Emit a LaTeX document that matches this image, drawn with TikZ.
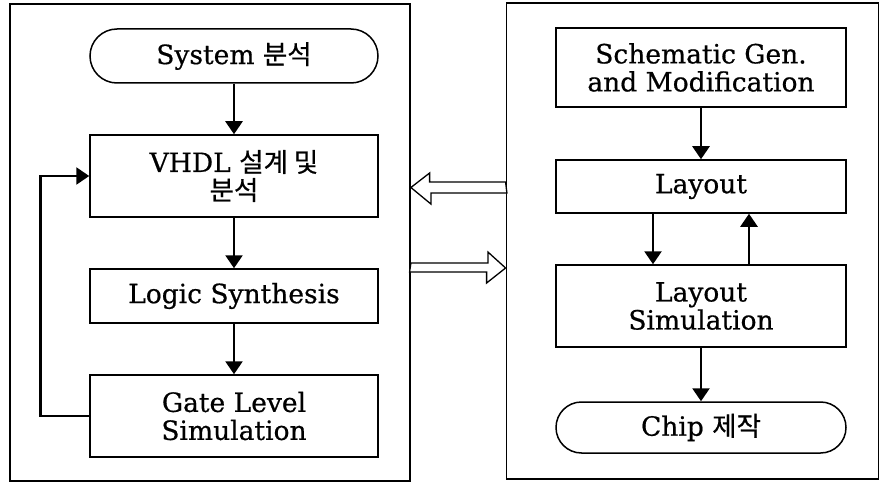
\documentclass[tikz,border=0pt]{standalone}
\usepackage{fontspec}
\setmainfont[FakeBold=0.6]{DejaVu Serif}
\newfontfamily\kr[FakeBold=0.6]{Noto Sans CJK KR}
\usetikzlibrary{arrows.meta,shapes.misc}
\begin{document}
\begin{tikzpicture}[x=1pt,y=-1pt,
  every node/.style={font=\fontsize{26.5}{28}\selectfont, align=center, inner sep=0pt},
  frame/.style={draw, line width=1.8pt},
  box/.style={draw, line width=1.5pt, minimum width=288pt},
  pill/.style={draw, line width=1.5pt, rounded rectangle, minimum width=288pt},
  arr/.style={line width=2.5pt, -{Triangle[length=13pt,width=17pt]}},
  fat/.style={draw, line width=1.3pt, fill=white, line join=miter}]
\useasboundingbox (0,0) rectangle (881,484);
\node[frame, minimum width=400pt, minimum height=477pt] (L) at (210,242.5) {};
\node[frame, minimum width=372pt, minimum height=476pt] (R) at (692.5,241) {};
% left column
\node[pill, minimum height=54pt] (sys) at (234,56) {System {\kr 분석}};
\node[box, minimum height=82pt] (vhdl) at (234,176) {VHDL {\kr 설계 및}\\{\kr 분석}};
\node[box, minimum height=54pt] (logic) at (234,296) {Logic Synthesis};
\node[box, minimum height=82pt] (gate) at (234,416) {Gate Level\\Simulation};
% right column
\node[box, minimum width=290pt, minimum height=79pt] (sch) at (701,67.5) {Schematic Gen.\\and Modification};
\node[box, minimum width=290pt, minimum height=53pt] (lay) at (701,186.5) {Layout};
\node[box, minimum width=290pt, minimum height=82pt] (lsim) at (701,306) {Layout\\Simulation};
\node[pill, minimum width=290pt, minimum height=51pt] (chip) at (701,427.5) {Chip {\kr 제작}};
% connectors
\draw[arr] (sys.south) -- (vhdl.north);
\draw[arr] (vhdl.south) -- (logic.north);
\draw[arr] (logic.south) -- (gate.north);
\draw[arr] (gate.west) -- ++(-49,0) |- (vhdl.west);
\draw[arr] (sch.south) -- (lay.north);
\draw[arr] ([xshift=-48pt]lay.south) -- ([xshift=-48pt]lsim.north);
\draw[arr] ([xshift=48pt]lsim.north) -- ([xshift=48pt]lay.south);
\draw[arr] (lsim.south) -- (chip.north);
% hollow block arrows between the two frames
\coordinate (a1) at (L.east |- 0,187.5);
\coordinate (b1) at (R.west |- 0,187.5);
\draw[fat] (b1) ++(0,-5.5) -- ++(-76,0) -- ++(0,-9) -- (a1) -- ++(20,16.5) -- ++(0,-11) -- ++(76,0) -- cycle;
\coordinate (a2) at (L.east |- 0,268);
\coordinate (b2) at (R.west |- 0,268);
\draw[fat] (a2) ++(0,-5) -- ++(77,0) -- ++(0,-11) -- (b2) -- ++(-19,15) -- ++(0,-11) -- ++(-77,0) -- cycle;
\end{tikzpicture}
\end{document}
